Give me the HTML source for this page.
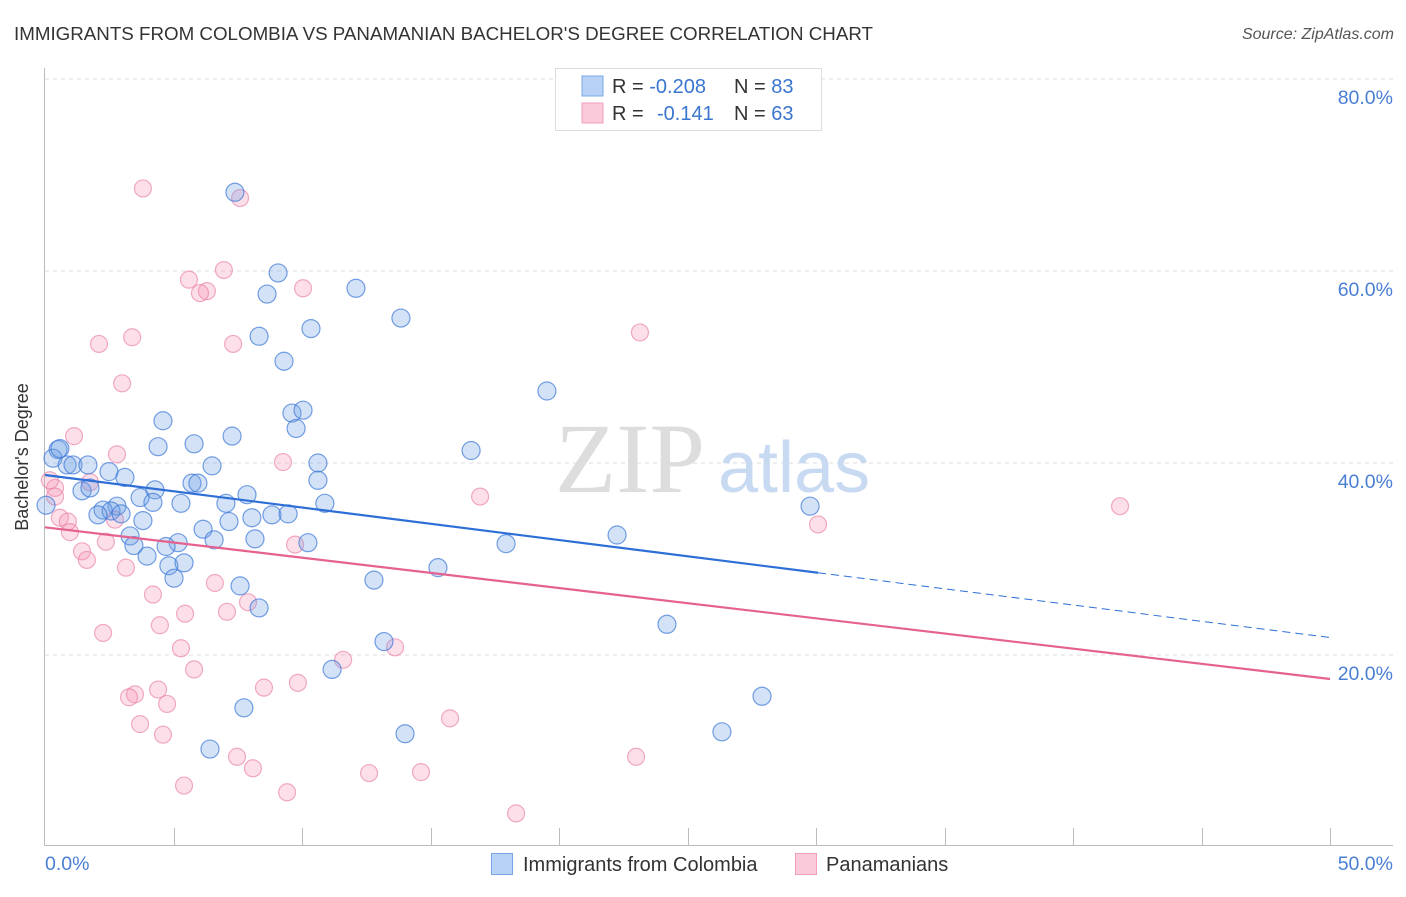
<!DOCTYPE html>
<html><head><meta charset="utf-8"><style>
body{margin:0;background:#fff;font-family:"Liberation Sans",sans-serif}
svg text{font-family:"Liberation Sans",sans-serif}
</style></head><body>
<svg width="1406" height="892" viewBox="0 0 1406 892">
<text x="14" y="40" font-size="18" fill="#333" textLength="859" lengthAdjust="spacingAndGlyphs">IMMIGRANTS FROM COLOMBIA VS PANAMANIAN BACHELOR'S DEGREE CORRELATION CHART</text>
<text x="1394" y="39" font-size="16" fill="#555" font-style="italic" text-anchor="end">Source: ZipAtlas.com</text>
<g id="grid"></g>
<text x="555" y="492" font-size="100" fill="#ddd" style="font-family:'Liberation Serif',serif">ZIP</text>
<text x="718" y="492" font-size="72" fill="#c8daf2">atlas</text>
<g id="pts"></g>
<g id="trends"></g>
<text x="28" y="457" font-size="18" fill="#333" text-anchor="middle" transform="rotate(-90 28 457)">Bachelor's Degree</text>
<text x="45" y="870" font-size="19.5" fill="#4a7fd4">0.0%</text>
<text x="1393" y="870" font-size="19.5" fill="#4a7fd4" text-anchor="end">50.0%</text>
<g>
<rect x="555.5" y="68.5" width="266" height="62" fill="#fff" stroke="#ddd"/>
<rect x="582" y="76" width="21" height="20" fill="#b8d2f5" stroke="#7aa8e6"/>
<rect x="582" y="103" width="21" height="20" fill="#fbcada" stroke="#f0a0bb"/>
<text x="612" y="93" font-size="20" fill="#333">R = <tspan fill="#3a75d0">-0.208</tspan></text>
<text x="734" y="93" font-size="20" fill="#333">N = <tspan fill="#3a75d0">83</tspan></text>
<text x="612" y="120" font-size="20" fill="#333">R = </text>
<text x="657" y="120" font-size="20" fill="#3a75d0">-0.141</text>
<text x="734" y="120" font-size="20" fill="#333">N = <tspan fill="#3a75d0">63</tspan></text>
</g>
<g>
<rect x="491.5" y="853.5" width="21" height="21" fill="#b8d2f5" stroke="#7aa8e6"/>
<text x="523" y="871" font-size="20" fill="#333">Immigrants from Colombia</text>
<rect x="795.5" y="853.5" width="21" height="21" fill="#fbcada" stroke="#f0a0bb"/>
<text x="826" y="871" font-size="20" fill="#333">Panamanians</text>
</g>
</svg>
<script>
const yTicks=[20,40,60,80];
const yTickLabels=["20.0%","40.0%","60.0%","80.0%"];
const blueX=[7.39,9.07,8.64,12.10,13.85,10.35,8.33,9.30,19.53,9.61,10.04,9.77,4.59,7.28,4.40,5.80,16.58,0.51,0.31,0.86,1.09,1.67,2.49,3.11,6.50,10.62,10.62,5.72,5.95,4.28,3.70,1.44,1.75,7.86,10.89,5.29,4.20,7.04,2.80,2.26,2.57,2.96,2.06,3.81,8.05,8.83,9.46,29.77,7.16,6.15,3.31,22.26,5.18,6.58,8.17,3.46,4.71,10.23,17.94,3.97,4.82,5.41,5.02,15.29,12.80,7.59,8.33,24.20,13.19,11.17,27.90,7.74,14.01,6.42,26.34,0.04,0.58];
const blueY=[68.2,59.8,57.6,58.2,55.1,54.0,53.2,50.6,47.5,45.2,45.5,43.6,44.4,42.8,41.7,42.0,41.3,41.4,40.5,39.8,39.8,39.8,39.1,38.5,39.7,40.0,38.2,37.9,37.9,37.2,36.4,37.1,37.4,36.7,35.8,35.8,35.9,35.8,35.5,35.1,35.0,34.7,34.6,34.0,34.3,34.6,34.7,35.5,33.9,33.1,32.4,32.5,31.7,32.0,32.1,31.4,31.3,31.7,31.6,30.3,29.3,29.6,28.0,29.1,27.8,27.2,24.9,23.2,21.4,18.5,15.7,14.5,11.8,10.2,12.0,35.6,41.5];
const pinkX=[3.81,7.59,6.96,5.60,6.30,6.03,10.04,2.10,3.39,7.32,23.15,3.00,1.13,2.80,9.26,1.75,16.93,41.83,30.08,0.39,0.39,0.58,0.89,0.97,2.72,2.37,1.44,1.63,9.73,3.15,6.61,7.08,4.20,5.45,7.90,4.47,5.29,2.26,5.80,13.62,11.60,8.52,9.84,4.40,3.50,3.27,4.75,3.70,4.59,15.76,7.47,8.09,23.00,5.41,12.61,14.63,9.42,18.33,0.19];
const pinkY=[68.6,67.6,60.1,59.1,57.9,57.7,58.2,52.4,53.1,52.4,53.6,48.3,42.8,40.9,40.1,38.0,36.5,35.5,33.6,37.4,36.5,34.3,33.9,32.8,34.1,31.8,30.8,29.9,31.5,29.1,27.5,24.5,26.3,24.3,25.5,23.1,20.7,22.3,18.5,20.8,19.5,16.6,17.1,16.4,15.9,15.6,14.9,12.8,11.7,13.4,9.4,8.2,9.4,6.4,7.7,7.8,5.7,3.5,38.2];
const blueTrend=[38.75,-0.3386];
const pinkTrend=[33.3,-0.316];
const blueSolidEnd=30.08;
const NS="http://www.w3.org/2000/svg";
const X0=45,X1=1330,Y0=847,YS=9.6;
const sx=v=>X0+(X1-X0)*v/50;
const sy=v=>Y0-v*YS;
function mk(tag,attrs,parent){const e=document.createElementNS(NS,tag);for(const k in attrs)e.setAttribute(k,attrs[k]);parent.appendChild(e);return e;}
const grid=document.getElementById('grid');
yTicks.forEach((t,i)=>{
 const l=mk('line',{x1:45,x2:1393,y1:sy(t),y2:sy(t),stroke:'#ddd','stroke-dasharray':'4,4'},grid);
 
 
 const tx=mk('text',{x:1393,y:sy(t)+25,'font-size':19.5,fill:'#4a7fd4','text-anchor':'end'},grid);
 tx.textContent=yTickLabels[i];
 
 
});
const ax=mk('line',{x1:45,x2:1393,y1:845.5,y2:845.5,stroke:'#bbb'},grid);


const ay=mk('line',{x1:44.5,x2:44.5,y1:68,y2:846,stroke:'#bbb'},grid);


for(let k=1;k<=10;k++){
 const x=Math.round(sx(k*5))+0.5;
 const t=mk('line',{x1:x,x2:x,y1:828,y2:846,stroke:'#bbb'},grid);
 
 
}
const pts=document.getElementById('pts');
pinkX.forEach((v,i)=>{
 const c=mk('circle',{cx:sx(v),cy:sy(pinkY[i]),r:8.5,fill:'rgba(244,150,180,0.3)',stroke:'rgba(232,120,160,0.6)','stroke-width':1.2},pts);
 
 
});
blueX.forEach((v,i)=>{
 const c=mk('circle',{cx:sx(v),cy:sy(blueY[i]),r:9,fill:'rgba(110,160,230,0.3)',stroke:'rgba(60,120,215,0.7)','stroke-width':1.2},pts);
 
 
});
const tr=document.getElementById('trends');
const bf=x=>blueTrend[0]+blueTrend[1]*x, pf=x=>pinkTrend[0]+pinkTrend[1]*x;
const b1=mk('line',{x1:sx(0),y1:sy(bf(0)),x2:sx(blueSolidEnd),y2:sy(bf(blueSolidEnd)),stroke:'#2d6fd6','stroke-width':2.2},tr);


const b2=mk('line',{x1:sx(blueSolidEnd),y1:sy(bf(blueSolidEnd)),x2:sx(50),y2:sy(bf(50)),stroke:'#2d6fd6','stroke-width':1,'stroke-dasharray':'8,5'},tr);


const p1=mk('line',{x1:sx(0),y1:sy(pf(0)),x2:sx(50),y2:sy(pf(50)),stroke:'#e5628e','stroke-width':2.2},tr);


</script>
</body></html>
